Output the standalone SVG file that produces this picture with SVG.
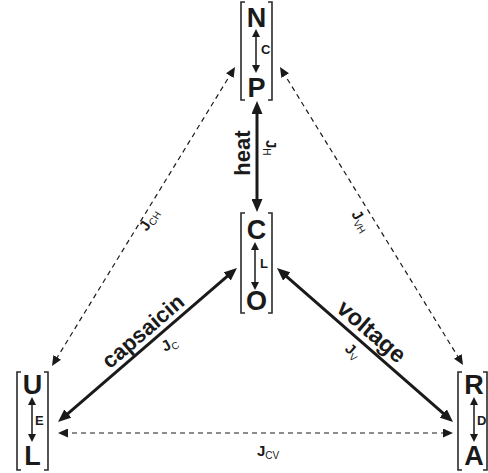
<svg xmlns="http://www.w3.org/2000/svg" width="488" height="473" viewBox="0 0 488 473">
<style>
.br{fill:none;stroke:#2a2a2a;stroke-width:1.6}
.st{font-family:"Liberation Sans",Arial,sans-serif;font-weight:bold;font-size:27px;fill:#1a1a1a;text-anchor:middle}
.sm{font-family:"Liberation Sans",Arial,sans-serif;font-weight:bold;font-size:13px;fill:#1a1a1a}
.lb{font-family:"Liberation Sans",Arial,sans-serif;font-weight:bold;font-size:22px;fill:#1a1a1a;text-anchor:middle}
.j{font-family:"Liberation Sans",Arial,sans-serif;font-weight:bold;font-size:15px;fill:#1a1a1a}
.sub{font-size:10px;font-weight:normal}
.main{fill:none;stroke:#1a1a1a;stroke-width:3;marker-start:url(#big);marker-end:url(#big)}
.dash{fill:none;stroke:#1a1a1a;stroke-width:1.2;stroke-dasharray:5,4;marker-start:url(#dh);marker-end:url(#dh)}
.in{fill:none;stroke:#1a1a1a;stroke-width:1.5;marker-start:url(#sh);marker-end:url(#sh)}
</style>
<defs>
<marker id="big" markerUnits="userSpaceOnUse" markerWidth="13" markerHeight="11" viewBox="0 0 13 11" refX="5" refY="5.5" orient="auto-start-reverse"><path d="M0,0 L13,5.5 L0,11 z" fill="#1a1a1a"/></marker>
<marker id="dh" markerUnits="userSpaceOnUse" markerWidth="10" markerHeight="9" viewBox="0 0 10 9" refX="5" refY="4.5" orient="auto-start-reverse"><path d="M0,0 L10,4.5 L0,9 z" fill="#1a1a1a"/></marker>
<marker id="sh" markerUnits="userSpaceOnUse" markerWidth="8" markerHeight="8" viewBox="0 0 8 8" refX="3" refY="4" orient="auto-start-reverse"><path d="M0,0 L8,4 L0,8 z" fill="#1a1a1a"/></marker>
</defs>

<g id="connectors">
<path class="main" d="M257,109 V204"/>
<path class="main" d="M230.9,273.2 L64.1,416.8"/>
<path class="main" d="M283,273.3 L447,416.7"/>
<path class="dash" d="M232.4,71.3 L54.6,361.7"/>
<path class="dash" d="M282.6,71.3 L460.4,360.7"/>
<path class="dash" d="M63,433 H448"/>
<text class="lb" transform="translate(242,153) rotate(-90)" y="8">heat</text>
<text class="j" transform="translate(266,140) rotate(90)">J<tspan class="sub" dy="3">H</tspan></text>
<text class="lb" transform="translate(151.8,341.3) rotate(-40.7)" y="-6">capsaicin</text>
<text class="j" transform="translate(165,352) rotate(-30)">J<tspan class="sub" dy="3">C</tspan></text>
<text class="lb" style="font-size:23.5px" transform="translate(362.5,341.9) rotate(40.7)" y="-6">voltage</text>
<text class="j" transform="translate(344,350) rotate(40.7)">J<tspan class="sub" dy="3">V</tspan></text>
<text class="j" transform="translate(147,232) rotate(-58.5)">J<tspan class="sub" dy="3">CH</tspan></text>
<text class="j" transform="translate(351,214) rotate(58.5)">J<tspan class="sub" dy="3">VH</tspan></text>
<text class="j" x="257" y="456">J<tspan class="sub" dy="3">CV</tspan></text>
</g>

<g id="NP">
<path class="br" d="M245,2 H241 V100 H245 M268,2 H272 V100 H268"/>
<text class="st" x="256.5" y="27">N</text>
<text class="st" x="256.5" y="97">P</text>
<path class="in" d="M256,34 V68"/>
<text class="sm" x="261" y="54">C</text>
</g>

<g id="CO">
<path class="br" d="M245,213 H241 V313 H245 M268,213 H272 V313 H268"/>
<text class="st" x="256.5" y="239">C</text>
<text class="st" x="256.5" y="310">O</text>
<path class="in" d="M255,247 V285"/>
<text class="sm" x="260" y="268">L</text>
</g>

<g id="UL">
<path class="br" d="M21,372 H17 V470 H21 M44,372 H48 V470 H44"/>
<text class="st" x="32.5" y="394">U</text>
<text class="st" x="32.5" y="465">L</text>
<path class="in" d="M32,402 V437"/>
<text class="sm" x="35" y="425">E</text>
</g>

<g id="RA">
<path class="br" d="M462,372 H458 V470 H462 M483,372 H487 V470 H483"/>
<text class="st" x="474" y="394">R</text>
<text class="st" x="474" y="465">A</text>
<path class="in" d="M474,402 V437"/>
<text class="sm" x="477" y="425">D</text>
</g>
</svg>
